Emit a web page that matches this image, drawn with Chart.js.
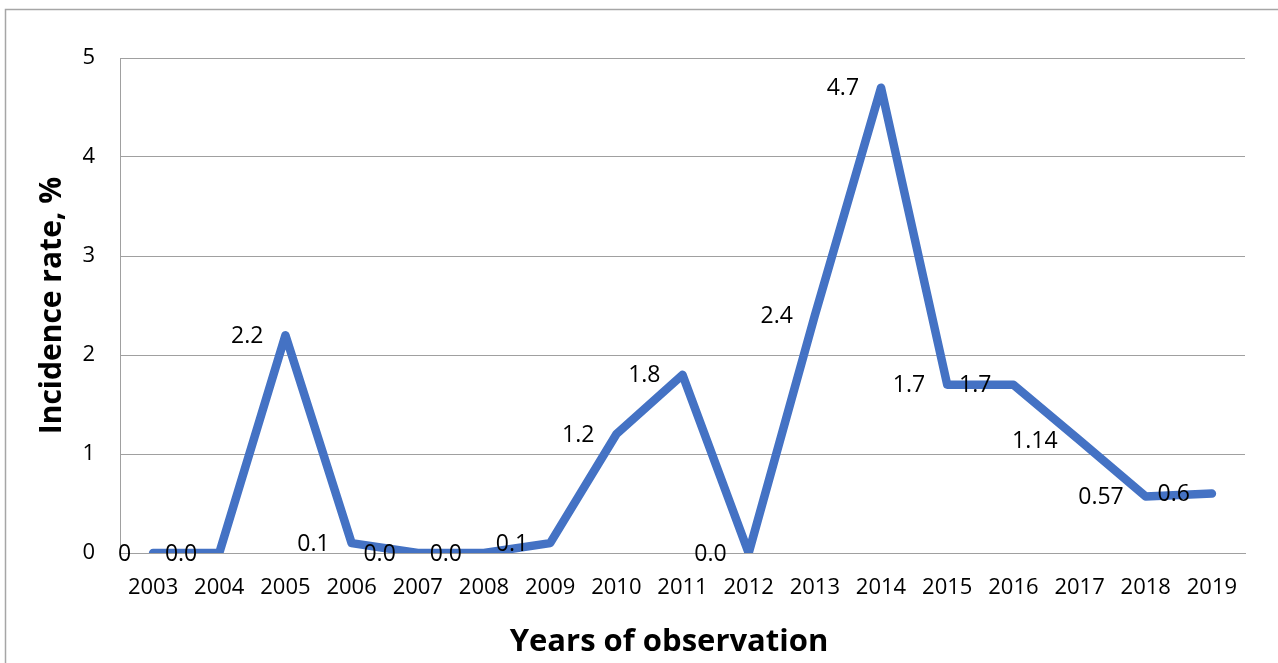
<!DOCTYPE html>
<html>
<head>
<meta charset="utf-8">
<script src="https://cdn.jsdelivr.net/npm/chart.js@4.4.1/dist/chart.umd.min.js"></script>
<style>
  html, body { margin: 0; padding: 0; background: #fff; }
  #wrap { position: relative; width: 1278px; height: 663px; }
</style>
</head>
<body>
<div id="wrap"><canvas id="chart"></canvas></div>
<script>
// data
const years = ["2003", "2004", "2005", "2006", "2007", "2008", "2009", "2010", "2011",
  "2012", "2013", "2014", "2015", "2016", "2017", "2018", "2019"];
const incidence = [0, 0, 2.2, 0.1, 0, 0, 0.1, 1.2, 1.8, 0, 2.4, 4.7, 1.7, 1.7, 1.14, 0.57, 0.6];
const pointLabels = ["0", "0.0", "2.2", "0.1", "0.0", "0.0", "0.1", "1.2", "1.8",
  "0.0", "2.4", "4.7", "1.7", "1.7", "1.14", "0.57", "0.6"];
const yTicks = [0, 1, 2, 3, 4, 5];
const xTitle = "Years of observation";

const FONT = "'Open Sans', 'Liberation Sans', sans-serif";
const GRID = "#a0a0a0";

// labels to the left of each point, like Excel
const labelPlugin = {
  id: "pointLabels",
  afterDatasetsDraw(chart) {
    const ctx = chart.ctx;
    const meta = chart.getDatasetMeta(0);
    ctx.save();
    ctx.font = "23px " + FONT;
    ctx.fillStyle = "#000";
    ctx.textAlign = "right";
    ctx.textBaseline = "middle";
    meta.data.forEach((p, i) => {
      ctx.fillText(pointLabels[i], p.x - 22, p.y + 1);
    });
    // x axis title, Excel puts it a bit left of the plot centre
    ctx.font = "bold 31px " + FONT;
    ctx.textAlign = "center";
    ctx.fillText(xTitle, 669, 642);
    ctx.restore();
  }
};

// outer frame of the chart object
const framePlugin = {
  id: "frame",
  beforeDraw(chart) {
    const ctx = chart.ctx;
    ctx.save();
    ctx.strokeStyle = "#a6a6a6";
    ctx.lineWidth = 1.5;
    ctx.beginPath();
    ctx.moveTo(5.5, 663);
    ctx.lineTo(5.5, 9.5);
    ctx.lineTo(1278, 9.5);
    ctx.stroke();
    ctx.restore();
  }
};

const ctx = document.getElementById("chart").getContext("2d");
new Chart(ctx, {
  type: "line",
  data: {
    labels: years,
    datasets: [{
      data: incidence,
      borderColor: "#4472C4",
      borderWidth: 8.5,
      borderCapStyle: "round",
      borderJoinStyle: "round",
      pointRadius: 0,
      tension: 0,
      fill: false
    }]
  },
  options: {
    responsive: true,
    maintainAspectRatio: false,
    animation: false,
    layout: { padding: { top: 58, right: 33, bottom: 0, left: 0 } },
    plugins: {
      legend: { display: false },
      tooltip: { enabled: false }
    },
    scales: {
      x: {
        offset: true,
        grid: { display: false, drawTicks: false },
        border: { display: true, color: GRID, width: 1 },
        ticks: { color: "#000", font: { family: FONT, size: 22 }, padding: 22, maxRotation: 0, autoSkip: false },
        afterFit(axis) { axis.height = 110; }
      },
      y: {
        min: 0,
        max: 5,
        afterBuildTicks(axis) { axis.ticks = yTicks.map(v => ({ value: v })); },
        grid: { color: GRID, lineWidth: 1, drawTicks: false },
        border: { display: true, color: GRID, width: 1 },
        ticks: { color: "#000", font: { family: FONT, size: 22 }, padding: 25 },
        title: {
          display: true,
          text: "Incidence rate, %",
          color: "#000",
          font: { family: FONT, size: 30, weight: "bold" },
          padding: { top: 34, bottom: 0 }
        },
        afterFit(axis) { axis.width = 120; }
      }
    }
  },
  plugins: [framePlugin, labelPlugin]
});
</script>
</body>
</html>
